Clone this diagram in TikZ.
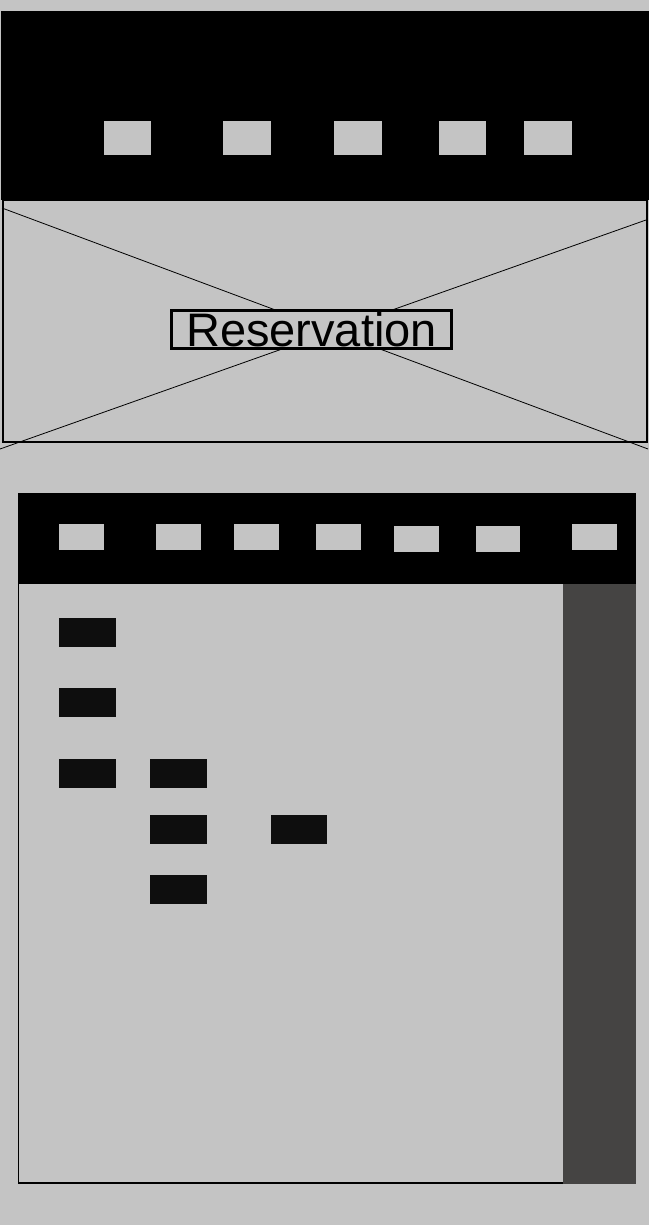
\documentclass[tikz,border=0pt]{standalone}
\usepackage{fontspec}
\setmainfont{Liberation Sans}
\definecolor{bg}{HTML}{C4C4C4}
\definecolor{side}{HTML}{454443}
\definecolor{dk}{HTML}{0E0E0E}
\begin{document}
\begin{tikzpicture}[x=1pt,y=-1pt,
  every node/.style={inner sep=0pt, outer sep=0pt},
  lightbtn/.style={fill=bg, draw=none, minimum width=#1, minimum height=34pt},
  lightbtn/.default=47pt,
  subbtn/.style={fill=bg, draw=none, minimum width=#1, minimum height=26pt},
  subbtn/.default=45pt,
  darkbtn/.style={fill=dk, draw=none, minimum width=#1, minimum height=29pt},
  darkbtn/.default=57pt,
  crossline/.style={draw=black, line width=0.8pt}]
\fill[bg] (0,0) rectangle (649,1225);
\useasboundingbox (0,0) rectangle (649,1225);
% top header
\fill[black] (1,11) rectangle (649,200);
\node[lightbtn] (h1) at (127.5,138) {};
\node[lightbtn=48pt] (h2) at (247,138) {};
\node[lightbtn=48pt] (h3) at (358,138) {};
\node[lightbtn] (h4) at (462.5,138) {};
\node[lightbtn=48pt] (h5) at (548,138) {};
% hero image placeholder
\draw[line width=2pt, fill=bg] (2.5,200) rectangle (647,441.5);
\draw[crossline] (2,208) -- (648,449);
\draw[crossline] (646,220) -- (0,449);
\node[draw=black, line width=2.5pt, fill=bg, minimum width=280pt, minimum height=38pt,
  font=\fontsize{47}{50}\selectfont] (title) at (311.5,329.5) {Reservation};
% second header
\fill[black] (18,493) rectangle (636,584);
\node[subbtn] (s1) at (81.5,537) {};
\node[subbtn] (s2) at (178.5,537) {};
\node[subbtn] (s3) at (256.5,537) {};
\node[subbtn] (s4) at (338.5,537) {};
\node[subbtn] (s5) at (416.5,539) {};
\node[subbtn=44pt] (s6) at (498,539) {};
\node[subbtn] (s7) at (594.5,537) {};
% content area
\fill[side] (563,584) rectangle (636,1184);
\draw[line width=1.4pt] (18.7,584) -- (18.7,1183) -- (563,1183);
\node[darkbtn] (d1) at (87.5,632.5) {};
\node[darkbtn] (d2) at (87.5,702.5) {};
\node[darkbtn] (d3) at (87.5,773.5) {};
\node[darkbtn] (d4) at (178.5,773.5) {};
\node[darkbtn] (d5) at (178.5,829.5) {};
\node[darkbtn=56pt] (d6) at (299,829.5) {};
\node[darkbtn] (d7) at (178.5,889.5) {};
\end{tikzpicture}
\end{document}
